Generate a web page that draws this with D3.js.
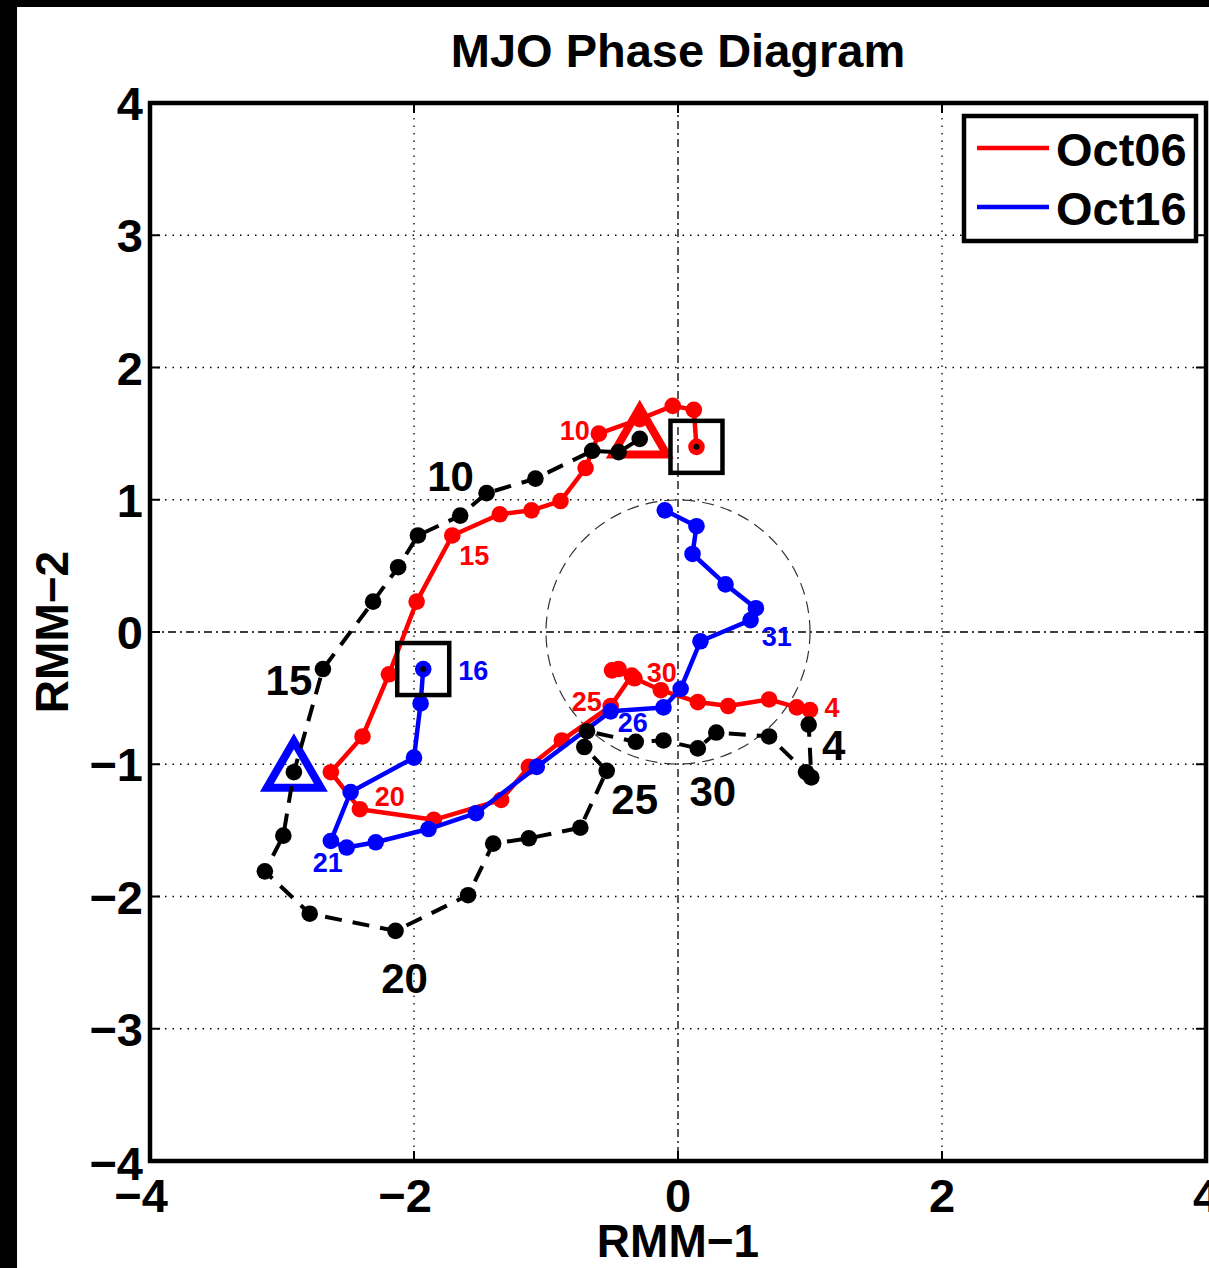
<!DOCTYPE html>
<html><head><meta charset="utf-8">
<script src="https://cdn.jsdelivr.net/npm/d3@7"></script>
<style>body{margin:0;background:#fff}svg{display:block}text{font-family:"Liberation Sans",Arial,Helvetica,sans-serif;font-weight:bold}</style>
</head><body>
<script>
// ---- data ----
const title = "MJO Phase Diagram";
const xLabel = "RMM\u22121", yLabel = "RMM\u22122";
const xTicks = [-4, -2, 0, 2, 4];
const yTicks = [-4, -3, -2, -1, 0, 1, 2, 3, 4];
const seriesNames = ["Oct06", "Oct16"];

// observed (Oct 6 .. Nov 4)
const obsX = [-0.29,-0.45,-0.65,-1.08,-1.45,-1.65,-1.97,-2.12,-2.31,-2.69,-2.91,-2.99,-3.13,-2.79,-2.14,-1.59,-1.40,-1.13,-0.74,-0.54,-0.71,-0.69,-0.32,-0.11,0.15,0.29,0.69,0.97,1.01,0.99];
const obsY = [1.46,1.36,1.37,1.16,1.05,0.88,0.73,0.49,0.23,-0.28,-1.06,-1.54,-1.81,-2.13,-2.26,-1.99,-1.60,-1.56,-1.48,-1.05,-0.87,-0.75,-0.83,-0.82,-0.88,-0.76,-0.79,-1.06,-1.10,-0.70];
const obsDays = ["6","7","8","9","10","11","12","13","14","15","16","17","18","19","20","21","22","23","24","25","26","27","28","29","30","31","1","2","3","4"];

// forecast from Oct 6 (Oct 6 .. Nov 4)
const oct06X = [0.14,0.12,-0.04,-0.29,-0.60,-0.70,-0.89,-1.11,-1.35,-1.71,-1.98,-2.19,-2.39,-2.63,-2.41,-1.85,-1.34,-1.13,-0.88,-0.51,-0.35,-0.50,-0.45,-0.33,-0.13,0.15,0.38,0.69,0.90,1.00];
const oct06Y = [1.40,1.68,1.71,1.61,1.50,1.24,0.99,0.92,0.89,0.73,0.23,-0.32,-0.79,-1.06,-1.34,-1.42,-1.27,-1.02,-0.82,-0.56,-0.33,-0.29,-0.28,-0.35,-0.44,-0.53,-0.56,-0.51,-0.57,-0.59];
const oct06Days = obsDays;

// forecast from Oct 16 (Oct 16 .. Nov 4)
const oct16X = [-1.93,-1.95,-2.00,-2.48,-2.63,-2.51,-2.29,-1.89,-1.53,-1.07,-0.51,-0.11,0.02,0.17,0.55,0.59,0.36,0.11,0.14,-0.10];
const oct16Y = [-0.28,-0.54,-0.95,-1.21,-1.58,-1.63,-1.59,-1.49,-1.37,-1.02,-0.60,-0.57,-0.43,-0.07,0.09,0.18,0.36,0.59,0.80,0.92];
const oct16Days = obsDays.slice(10);

// labelled days
const obsLabelDays = ["10","15","20","25","30","4"];
const oct06LabelDays = ["10","15","20","25","30","4"];
const oct16LabelDays = ["16","21","26","31"];
// initial-date observed positions (triangles)
const triDays = ["6","16"];

// ---- layout ----
const W = 1209, H = 1268;
const svg = d3.select("body").append("svg").attr("width", W).attr("height", H);
svg.append("rect").attr("width", W).attr("height", H).attr("fill", "#fff");
svg.append("rect").attr("x",0).attr("y",0).attr("width",17).attr("height",H).attr("fill","#000");
svg.append("rect").attr("x",0).attr("y",0).attr("width",W).attr("height",7).attr("fill","#000");

const x = d3.scaleLinear().domain([-4,4]).range([150,1206]);
const y = d3.scaleLinear().domain([-4,4]).range([1161,103]);
const colors = {obs:"#000", Oct06:"#ff0000", Oct16:"#0000ff"};

// grid
const g = svg.append("g");
[-2,2].forEach(v => g.append("line").attr("x1",x(v)).attr("x2",x(v)).attr("y1",y(4)).attr("y2",y(-4))
  .attr("stroke","#000").attr("stroke-width",1.3).attr("stroke-dasharray","1.5,6"));
[-3,-2,-1,1,2,3].forEach(v => g.append("line").attr("y1",y(v)).attr("y2",y(v)).attr("x1",x(-4)).attr("x2",x(4))
  .attr("stroke","#000").attr("stroke-width",1.3).attr("stroke-dasharray","1.5,6"));
g.append("line").attr("x1",x(0)).attr("x2",x(0)).attr("y1",y(4)).attr("y2",y(-4))
  .attr("stroke","#000").attr("stroke-width",1.3).attr("stroke-dasharray","8,4,2,4");
g.append("line").attr("y1",y(0)).attr("y2",y(0)).attr("x1",x(-4)).attr("x2",x(4))
  .attr("stroke","#000").attr("stroke-width",1.3).attr("stroke-dasharray","8,4,2,4");
// unit circle
g.append("circle").attr("cx",x(0)).attr("cy",y(0)).attr("r",x(1)-x(0))
  .attr("fill","none").attr("stroke","#333").attr("stroke-width",1.2).attr("stroke-dasharray","12,7");

// ticks
const tk = svg.append("g").attr("stroke","#000").attr("stroke-width",2);
xTicks.forEach(v => {
  tk.append("line").attr("x1",x(v)).attr("x2",x(v)).attr("y1",y(-4)).attr("y2",y(-4)-10);
  tk.append("line").attr("x1",x(v)).attr("x2",x(v)).attr("y1",y(4)).attr("y2",y(4)+10);
});
yTicks.forEach(v => {
  tk.append("line").attr("y1",y(v)).attr("y2",y(v)).attr("x1",x(-4)).attr("x2",x(-4)+10);
  tk.append("line").attr("y1",y(v)).attr("y2",y(v)).attr("x1",x(4)).attr("x2",x(4)-10);
});
const fmt = v => v < 0 ? "\u2212" + Math.abs(v) : String(v);
xTicks.forEach(v => svg.append("text").attr("x", x(v) - (v<0?9:0)).attr("y", 1212)
  .attr("text-anchor","middle").attr("font-size",47).text(fmt(v)));
yTicks.forEach(v => svg.append("text").attr("x", 143).attr("y", y(v) + 17 + (v===-4?2:0))
  .attr("text-anchor","end").attr("font-size",47).text(fmt(v)));

// title & axis labels
svg.append("text").attr("x",678).attr("y",67).attr("text-anchor","middle").attr("font-size",47).text(title);
svg.append("text").attr("x",678).attr("y",1257).attr("text-anchor","middle").attr("font-size",46).text(xLabel);
svg.append("text").attr("transform","translate(68,632) rotate(-90)").attr("text-anchor","middle").attr("font-size",46).text(yLabel);

const mk = (xs, ys) => xs.map((v,i) => [v, ys[i]]);
const obs = mk(obsX, obsY), r06 = mk(oct06X, oct06Y), r16 = mk(oct16X, oct16Y);
const line = d3.line().x(d => x(d[0])).y(d => y(d[1]));

function drawSeries(pts, color, dash, width) {
  const gg = svg.append("g");
  gg.append("path").attr("d", line(pts)).attr("fill","none").attr("stroke",color)
    .attr("stroke-width",width).attr("stroke-dasharray",dash).attr("stroke-linejoin","round");
  gg.selectAll("circle").data(pts).join("circle").attr("cx",d=>x(d[0])).attr("cy",d=>y(d[1]))
    .attr("r",8.3).attr("fill",color);
  return gg;
}
drawSeries(r06, colors.Oct06, null, 4.5);
drawSeries(r16, colors.Oct16, null, 4.5);

// triangles at observed initial positions
const triColors = [colors.Oct06, colors.Oct16];
triDays.forEach((d,k) => {
  const p = obs[obsDays.indexOf(d)];
  const cx = x(p[0]), cy = y(p[1]);
  const s = 27;
  svg.append("path").attr("d", `M${cx},${cy-s*1.15} L${cx+s*1.0},${cy+s*0.58} L${cx-s*1.0},${cy+s*0.58} Z`)
    .attr("fill","none").attr("stroke",triColors[k]).attr("stroke-width",8).attr("stroke-linejoin","miter");
});

drawSeries(obs, colors.obs, "17,11", 4);

// squares at forecast start + start dot
[[r06, colors.Oct06],[r16, colors.Oct16]].forEach(([pts,c]) => {
  const cx = x(pts[0][0]), cy = y(pts[0][1]);
  svg.append("rect").attr("x",cx-26).attr("y",cy-26).attr("width",52).attr("height",52)
    .attr("fill","none").attr("stroke","#000").attr("stroke-width",4.5);
  svg.append("circle").attr("cx",cx).attr("cy",cy).attr("r",7).attr("fill",c);
  svg.append("circle").attr("cx",cx).attr("cy",cy).attr("r",3).attr("fill","#000");
});

// day labels
const offs = {
  obs: [[-36,-17],[-34,11],[9,48],[28,29],[15,43],[25,21]],
  Oct06: [[-24,-3],[22,21],[30,-12],[-24,-4],[1,-17],[22,-2]],
  Oct16: [[50,2],[-19,15],[22,12],[21,29]]
};
function labels(pts, days, lab, off, color, size) {
  lab.forEach((d,i) => {
    const p = pts[days.indexOf(d)];
    svg.append("text").attr("x", x(p[0]) + off[i][0]).attr("y", y(p[1]) + off[i][1])
      .attr("text-anchor","middle").attr("dominant-baseline","central")
      .attr("font-size",size).attr("fill",color).text(d);
  });
}
labels(obs, obsDays, obsLabelDays, offs.obs, colors.obs, 42);
labels(r06, oct06Days, oct06LabelDays, offs.Oct06, colors.Oct06, 27);
labels(r16, oct16Days, oct16LabelDays, offs.Oct16, colors.Oct16, 27);

// axes box
svg.append("rect").attr("x",x(-4)).attr("y",y(4)).attr("width",x(4)-x(-4)).attr("height",y(-4)-y(4))
  .attr("fill","none").attr("stroke","#000").attr("stroke-width",4.5);

// legend
const lg = svg.append("g");
lg.append("rect").attr("x",964).attr("y",116).attr("width",232).attr("height",125)
  .attr("fill","#fff").attr("stroke","#000").attr("stroke-width",4.5);
seriesNames.forEach((n,i) => {
  const yy = 148 + i*59;
  lg.append("line").attr("x1",977).attr("x2",1049).attr("y1",yy).attr("y2",yy)
    .attr("stroke",colors[n]).attr("stroke-width",4.5);
  lg.append("text").attr("x",1056).attr("y",yy+18).attr("font-size",47).text(n);
});
</script>
</body></html>
